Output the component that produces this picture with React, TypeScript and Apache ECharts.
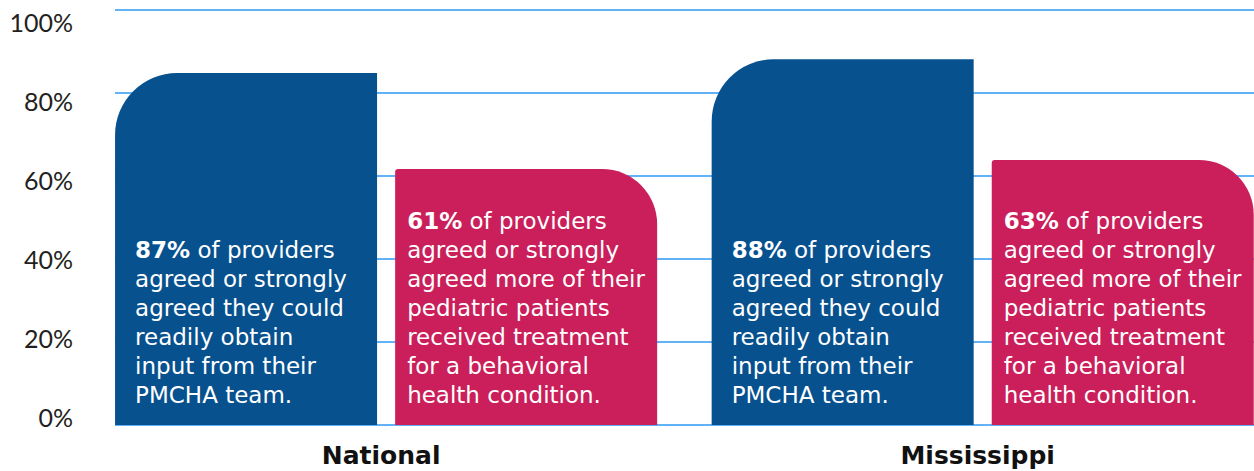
import React, { useEffect, useRef } from "react";
import * as echarts from "echarts";

const categories = ["National", "Mississippi"];
// bar heights as drawn in the picture (percent of axis)
const blueHeights = [84.7, 88.0];
const pinkHeights = [61.6, 63.8];
// percentages printed inside the bars
const bluePct = ["87%", "88%"];
const pinkPct = ["61%", "63%"];
const blueText = [
  "of providers",
  "agreed or strongly",
  "agreed they could",
  "readily obtain",
  "input from their",
  "PMCHA team.",
];
const pinkText = [
  "of providers",
  "agreed or strongly",
  "agreed more of their",
  "pediatric patients",
  "received treatment",
  "for a behavioral",
  "health condition.",
];
const yTicks = [0, 20, 40, 60, 80, 100];

const BLUE = "#07518f";
const PINK = "#ca1f5a";
const GRID = "#62b2f8";
const FONT = "'DejaVu Sans', 'Open Sans', sans-serif";

function makeLabel(pcts: string[], lines: string[], offsetX: number) {
  return {
    show: true,
    position: "insideBottomLeft",
    distance: 0,
    offset: [offsetX, -16],
    color: "#ffffff",
    fontFamily: FONT,
    fontSize: 23,
    lineHeight: 29,
    align: "left",
    verticalAlign: "bottom",
    formatter: (p: any) =>
      "{b|" + pcts[p.dataIndex] + "} " + lines.join("\n"),
    rich: {
      b: {
        fontWeight: "bold",
        fontSize: 23,
        lineHeight: 29,
        color: "#ffffff",
        fontFamily: FONT,
      },
    },
  };
}

export default function App() {
  const ref = useRef<HTMLDivElement>(null);
  useEffect(() => {
    if (!ref.current) return;
    const chart = echarts.init(ref.current, null, { renderer: "svg" });
    chart.setOption({
      animation: false,
      backgroundColor: "#ffffff",
      grid: [
        // bars
        { left: 87.8, right: 0, top: 9.5, bottom: 46, containLabel: false },
        // gridlines
        { left: 115, right: 0, top: 9.5, bottom: 46, containLabel: false },
        // y labels
        { left: 115, right: 0, top: 21.7, bottom: 54.3, containLabel: false },
      ],
      xAxis: [
        {
          gridIndex: 0,
          type: "category",
          data: categories,
          axisLine: { show: false },
          axisTick: { show: false },
          axisLabel: {
            margin: 18,
            fontFamily: "'DejaVu Sans', sans-serif",
            fontWeight: "bold",
            fontSize: 25,
            color: "#111111",
            padding: [0, 10, 0, 0],
          },
        },
        { gridIndex: 1, type: "value", show: false },
        { gridIndex: 2, type: "value", show: false },
      ],
      yAxis: [
        {
          gridIndex: 0,
          type: "value",
          min: 0,
          max: 100,
          interval: 20,
          show: false,
        },
        {
          gridIndex: 1,
          type: "value",
          min: 0,
          max: 100,
          interval: 20,
          axisLine: { show: false },
          axisTick: { show: false },
          axisLabel: { show: false },
          splitLine: { show: true, lineStyle: { color: GRID, width: 2 } },
        },
        {
          gridIndex: 2,
          type: "value",
          min: yTicks[0],
          max: yTicks[yTicks.length - 1],
          interval: 20,
          axisLine: { show: false },
          axisTick: { show: false },
          splitLine: { show: false },
          axisLabel: {
            margin: 42,
            fontFamily: "Lato, sans-serif",
            fontSize: 25,
            color: "#231f20",
            formatter: (v: number) => v + "%",
          },
        },
      ],
      series: [
        {
          type: "bar",
          xAxisIndex: 0,
          yAxisIndex: 0,
          data: blueHeights,
          barWidth: 262,
          barGap: "6.9%",
          itemStyle: { color: BLUE, borderRadius: [62, 0, 0, 0] },
          label: makeLabel(bluePct, blueText, 20),
        },
        {
          type: "bar",
          xAxisIndex: 0,
          yAxisIndex: 0,
          data: pinkHeights,
          barWidth: 262,
          barGap: "6.9%",
          itemStyle: { color: PINK, borderRadius: [3, 55, 0, 0] },
          label: makeLabel(pinkPct, pinkText, 12),
        },
      ],
    });
    return () => chart.dispose();
  }, []);
  return (
    <div
      ref={ref}
      style={{ position: "fixed", left: 0, top: 0, width: 1281, height: 471 }}
    />
  );
}
